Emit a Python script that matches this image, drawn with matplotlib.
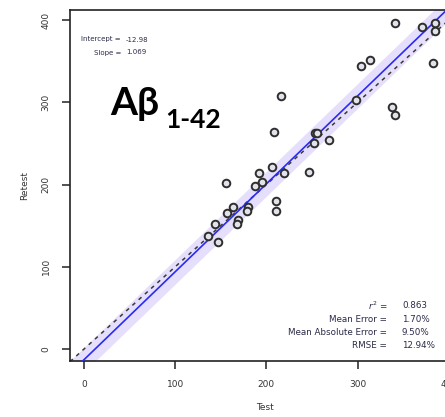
import numpy as np
import matplotlib.pyplot as plt

# test / retest values
test = [155.7, 191.9, 205.8, 219.3, 246.4, 187.5, 194.8, 210.5, 210.5, 163.7,
        157.1, 180.2, 178.4, 169.2, 168.1, 143.6, 136.3, 147.3, 215.6, 208.3,
        253.3, 255.8, 252.2, 268.6, 298.2, 303.4, 313.6, 337.4, 341.0, 341.0,
        370.2, 384.9, 384.9, 383.0]
retest = [201.5, 214.4, 221.6, 213.6, 214.8, 198.2, 203.0, 180.3, 168.1, 173.0,
          165.0, 173.0, 168.1, 156.8, 152.0, 152.0, 137.8, 129.7, 308.0, 264.2,
          262.2, 263.0, 250.8, 254.1, 302.7, 344.0, 351.4, 293.8, 284.5, 396.0,
          391.9, 396.8, 387.0, 347.4]

intercept = -12.98
slope = 1.069
band = 15.0

stat_labels = ["$r^2$ =", "Mean Error =", "Mean Absolute Error =", "RMSE ="]
stat_values = ["0.863", "1.70%", "9.50%", "12.94%"]
ticks = [0, 100, 200, 300, 400]

W, H = 445, 417
fig = plt.figure(figsize=(W / 100, H / 100), dpi=100)
ax = fig.add_axes([70 / W, 56 / H, 389.7 / W, 351 / H])

xlim = (-15.4, 412)
ylim = (-14.6, 412.2)
xx = np.array(xlim)

# regression fit, band, identity line
ax.fill_between(xx, intercept + slope * xx - band, intercept + slope * xx + band,
                color='#e6dffb', lw=0, zorder=1)
ax.plot(xx, xx, color='#3a3a3a', lw=1.1, ls=(0, (2.5, 3)), zorder=2)
ax.plot(xx, intercept + slope * xx, color='#2a2af5', lw=1.2, zorder=3)

ax.scatter(test, retest, s=30, facecolors='#e2e2ea', edgecolors='#2e2e2e',
           linewidths=1.4, zorder=4)

ax.set_xlim(xlim)
ax.set_ylim(ylim)
ax.set_xticks(ticks)
ax.set_yticks(ticks)
ax.tick_params(direction='out', length=6, width=1.1, color='#222222',
               labelsize=6.5, labelcolor='#333333', pad=8)
for lab in ax.get_yticklabels():
    lab.set_rotation(90)
    lab.set_va('center')
for sp in ax.spines.values():
    sp.set_color('#222222')
    sp.set_linewidth(1.2)

ax.set_xlabel("Test", fontsize=6.5, color='#333333', labelpad=10)
ax.set_ylabel("Retest", fontsize=6.5, color='#333333', labelpad=9)

# annotation texts in pixel positions of the figure
def px(x, y):
    return x / W, 1 - y / H

tc = '#2a2a48'
fig.text(*px(121, 39.5), "Intercept =", ha='right', va='center', fontsize=5, color=tc)
fig.text(*px(126, 39.5), "-12.98", ha='left', va='center', fontsize=5, color=tc)
fig.text(*px(121, 52.5), "Slope =", ha='right', va='center', fontsize=5, color=tc)
fig.text(*px(126, 52.5), "1.069", ha='left', va='center', fontsize=5, color=tc)

rows_y = [305.5, 319.5, 332.5, 345.5]
for lab, val, y in zip(stat_labels, stat_values, rows_y):
    fig.text(*px(387, y), lab, ha='right', va='center', fontsize=6.3, color=tc)
    fig.text(*px(402, y), val, ha='left', va='center', fontsize=6.3, color=tc)

fig.text(*px(110, 115), "A\u03b2", ha='left', va='baseline', fontsize=28,
         fontweight='bold', family=['Lato', 'DejaVu Sans'], color='black')
fig.text(*px(165, 128), "1-42", ha='left', va='baseline', fontsize=19,
         fontweight='bold', family=['Lato', 'DejaVu Sans'], color='black')

fig.savefig("out.png", dpi=100)
